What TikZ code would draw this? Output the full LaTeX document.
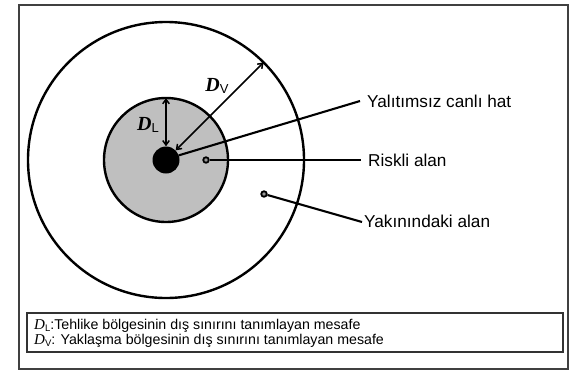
\documentclass[tikz,border=0pt]{standalone}
\usepackage{fontspec}
\setmainfont{Liberation Sans}
\newfontfamily\tnr{Liberation Serif}
\usetikzlibrary{arrows.meta}
\begin{document}
\begin{tikzpicture}[x=1pt,y=-1pt,
  ring/.style={draw=black,line width=2.4pt},
  lead/.style={draw=black,line width=2.1pt},
  dim/.style={draw=black,line width=1.5pt,{Straight Barb[length=4.5pt,width=6.5pt]}-{Straight Barb[length=4.5pt,width=6.5pt]}},
  lbl/.style={anchor=west,inner sep=0pt,font=\fontsize{17.2}{20}\selectfont},
  spot/.style={circle,draw=black,line width=1.8pt,fill=black!40,minimum size=5.5pt,inner sep=0pt},
  legtxt/.style={anchor=west,inner sep=0pt,font=\fontsize{14.2}{17}\selectfont}]
\useasboundingbox (0,0) rectangle (569,370);
\fill[white] (0,0) rectangle (569,370);
% outer frame
\draw[draw=black!75,line width=1.5pt] (19,5) rectangle (568,369);
% circles
\coordinate (c) at (166,160);
\draw[ring] (c) circle[radius=138];
\draw[ring,fill=black!25] (c) circle[radius=62];
\node[circle,fill=black,minimum size=27pt,inner sep=0pt] (live) at (c) {};
% spots
\node[spot] (risk) at (206,160) {};
\node[spot] (near) at (264,194) {};
% labels
\node[lbl] (lhat) at (367,101) {Yalıtımsız canlı hat};
\node[lbl] (lrisk) at (368,160) {Riskli alan};
\node[lbl] (lnear) at (364,221) {Yakınındaki alan};
\coordinate (ehat) at (360,101);
\coordinate (erisk) at (361,160);
\coordinate (enear) at (362,222);
\draw[lead] (live.20) -- (ehat);
\draw[lead] (risk.east) -- (erisk);
\draw[lead] (near) -- (enear);
% dimensions
\coordinate (dlTop) at (166,98);
\coordinate (dvEnd) at (263.6,62.4);
\draw[dim] (dlTop) -- (live.north);
\draw[dim] (live.45) -- (dvEnd);
\node[inner sep=0pt] (DL) at (148,125) {{\tnr\bfseries\itshape\fontsize{20}{22}\selectfont D}\raisebox{-2pt}{\fontsize{13}{15}\selectfont L}};
\node[inner sep=0pt] (DV) at (217,86) {{\tnr\bfseries\itshape\fontsize{20}{22}\selectfont D}\raisebox{-2pt}{\fontsize{13}{15}\selectfont V}};
% legend
\draw[draw=black!80,line width=1.5pt] (27,313) rectangle (563,352);
\node[legtxt] (leg1) at (34,326) {{\tnr\itshape\fontsize{15}{17}\selectfont D}\raisebox{-1.5pt}{\fontsize{9.5}{10}\selectfont L}:Tehlike bölgesinin dış sınırını tanımlayan mesafe};
\node[legtxt] (leg2) at (34,341) {{\tnr\itshape\fontsize{15}{17}\selectfont D}\raisebox{-1.5pt}{\fontsize{9.5}{10}\selectfont V}: Yaklaşma bölgesinin dış sınırını tanımlayan mesafe};
\end{tikzpicture}
\end{document}
